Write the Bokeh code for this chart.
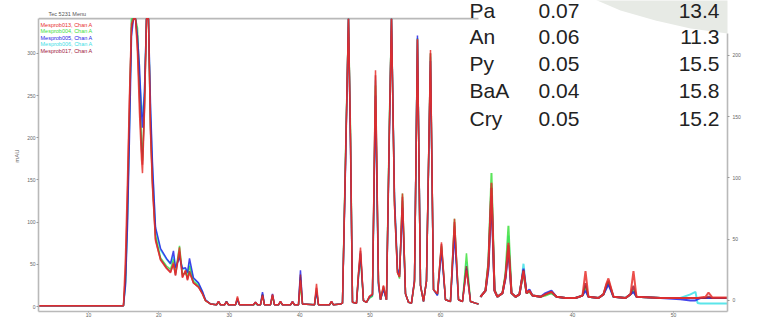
from bokeh.plotting import figure
from bokeh.models import Range1d, LinearAxis, FixedTicker, Label, PolyAnnotation
from bokeh.embed import file_html
from bokeh.resources import INLINE

# ---------------- data ----------------
SERIES = ["Mesprob013, Chan A", "Mesprob004, Chan A", "Mesprob005, Chan A",
          "Mesprob006, Chan A", "Mesprob017, Chan A"]
COLORS = ["#e8302c", "#3ee03e", "#2424e6", "#3ee0e6", "#a0203c"]

# left (full) chromatogram, time in min; off-scale peaks read at the panel top (341)
T_LEFT = [2.90, 14.97, 15.26, 15.54, 15.82, 16.11, 16.39, 16.68, 16.96, 17.24,
          17.53, 17.67, 17.95, 18.24, 18.52, 18.81, 19.09, 19.52, 20.23, 21.08,
          21.65, 22.07, 22.36, 22.93, 23.35, 23.78, 24.06, 24.35, 24.91, 25.63,
          26.19, 26.62, 27.33, 28.18, 28.47, 28.75, 29.32, 29.60, 29.89, 30.88,
          31.16, 31.45, 33.44, 33.72, 34.01, 34.43, 34.72, 35.00, 35.85, 36.14,
          36.42, 36.99, 37.27, 37.56, 38.69, 38.98, 39.26, 39.83, 40.11, 40.40,
          42.10, 42.39, 42.67, 44.23, 44.52, 44.80, 45.80, 46.08, 46.51, 46.93,
          47.22, 47.50, 48.07, 48.35, 48.64, 49.06, 49.49, 49.91, 50.34, 50.77,
          51.19, 51.48, 51.90, 52.33, 52.76, 53.04, 53.47, 53.89, 54.18, 54.60,
          55.03, 55.45, 55.88, 56.31, 56.73, 57.16, 57.59, 58.01, 58.58, 59.01,
          59.57, 60.14, 60.71, 61.42, 61.99, 62.56, 63.13, 63.69, 64.26, 64.97,
          65.40]
LEFT_013 = [1, 1, 60, 150, 250, 335, 341, 341, 300, 230,
            175, 158, 230, 341, 341, 205, 141, 78, 55, 45,
            40, 52, 37, 70, 34, 43, 31, 40, 28, 23,
            15, 7, 3, 2, 6, 2, 2, 5, 2, 2,
            12, 2, 2, 5, 2, 2, 13, 2, 2, 14,
            2, 2, 6, 2, 2, 6, 2, 2, 31, 3,
            2, 27, 2, 2, 6, 2, 3, 4, 173, 341,
            200, 5, 4, 40, 70, 7, 5, 12, 15, 280,
            31, 8, 25, 8, 220, 341, 120, 40, 35, 134,
            15, 5, 4, 30, 317, 25, 6, 30, 304, 20,
            15, 76, 8, 6, 104, 8, 6, 43, 6, 4,
            3]
LEFT_004 = [1, 1, 30, 110, 220, 341, 341, 341, 330, 270,
            195, 173, 240, 341, 341, 215, 150, 85, 58, 48,
            44, 56, 40, 72, 38, 40, 35, 48, 30, 25,
            16, 7, 3, 2, 5, 2, 2, 6, 2, 2,
            9, 2, 2, 4, 2, 2, 14, 2, 2, 12,
            2, 2, 5, 2, 2, 5, 2, 2, 25, 3,
            2, 19, 2, 2, 5, 2, 3, 4, 180, 341,
            210, 5, 4, 35, 58, 7, 5, 10, 12, 262,
            28, 8, 22, 8, 230, 341, 125, 42, 33, 134,
            15, 5, 4, 28, 318, 25, 6, 30, 300, 20,
            14, 72, 8, 6, 104, 8, 6, 63, 6, 4,
            3]
LEFT_005 = [1, 1, 25, 95, 200, 320, 341, 341, 320, 285,
            230, 212, 255, 341, 341, 240, 170, 94, 69, 57,
            51, 66, 46, 58, 45, 46, 40, 57, 34, 28,
            18, 8, 3, 2, 6, 2, 2, 6, 2, 2,
            8, 2, 2, 5, 2, 2, 17, 2, 2, 15,
            2, 2, 6, 2, 2, 6, 2, 2, 43, 3,
            2, 18, 2, 2, 6, 2, 3, 4, 165, 341,
            190, 5, 4, 35, 63, 7, 5, 11, 14, 250,
            25, 8, 20, 8, 210, 341, 130, 45, 38, 117,
            15, 5, 4, 32, 321, 25, 6, 30, 291, 20,
            13, 66, 8, 6, 84, 8, 6, 45, 6, 4,
            3]
LEFT_006 = [1, 1, 28, 105, 215, 340, 341, 341, 320, 270,
            240, 225, 255, 341, 341, 230, 165, 92, 67, 56,
            50, 60, 45, 62, 44, 45, 39, 52, 33, 27,
            17, 8, 3, 2, 5, 2, 2, 5, 2, 2,
            8, 2, 2, 4, 2, 2, 15, 2, 2, 13,
            2, 2, 5, 2, 2, 6, 2, 2, 35, 3,
            2, 19, 2, 2, 5, 2, 3, 4, 175, 341,
            200, 5, 4, 38, 62, 7, 5, 10, 13, 268,
            27, 8, 21, 8, 225, 341, 125, 44, 36, 125,
            15, 5, 4, 30, 318, 25, 6, 30, 296, 20,
            14, 70, 8, 6, 95, 8, 6, 52, 6, 4,
            3]
LEFT_017 = [1, 1, 40, 130, 240, 330, 341, 341, 310, 250,
            185, 168, 235, 341, 341, 210, 145, 80, 56, 46,
            41, 50, 37, 65, 35, 42, 32, 42, 28, 23,
            15, 7, 3, 2, 6, 2, 2, 6, 2, 2,
            10, 2, 2, 5, 2, 2, 14, 2, 2, 14,
            2, 2, 6, 2, 2, 5, 2, 2, 38, 3,
            2, 22, 2, 2, 6, 2, 3, 4, 170, 341,
            195, 5, 4, 38, 66, 7, 5, 12, 14, 274,
            29, 8, 24, 8, 220, 341, 120, 40, 35, 130,
            15, 5, 4, 30, 316, 25, 6, 30, 300, 20,
            15, 74, 8, 6, 100, 8, 6, 48, 6, 4,
            3]

# right (expanded) chromatogram
T_RIGHT = [30.89, 31.39, 31.68, 31.98, 32.28, 32.57, 33.07, 33.37, 33.66, 33.96,
           34.36, 34.75, 34.95, 35.15, 35.45, 35.74, 36.04, 36.83, 37.33, 37.92,
           38.42, 39.31, 40.30, 40.99, 41.29, 41.58, 42.57, 43.07, 43.37, 43.56,
           43.76, 44.06, 45.25, 45.74, 46.04, 46.34, 48.71, 50.69, 51.68, 52.18,
           52.38, 52.67, 53.17, 53.47, 53.86, 54.46, 55.35]
RIGHT_013 = [3, 8, 30, 96, 8, 3, 6, 20, 47, 6,
             3, 5, 15, 24, 6, 8, 4, 3, 5, 7,
             3, 2, 2, 4, 24, 3, 2, 5, 14, 18,
             12, 3, 2, 5, 24, 3, 2, 2, 2, 2,
             2, 2.4, 3, 6.5, 2.4, 2.4, 2.4]
RIGHT_004 = [3, 8, 32, 104, 9, 3, 6, 22, 61, 6,
             3, 5, 15, 22, 6, 7, 4, 3, 4, 6,
             3, 2, 2, 4, 12, 3, 2, 5, 11, 15,
             10, 3, 2, 5, 8, 3, 2, 2, 2, 2,
             2, 2, 2, 2, 2, 2, 2]
RIGHT_005 = [3, 8, 25, 85, 8, 3, 6, 18, 41, 6,
             3, 5, 15, 26, 6, 9, 4, 3, 6, 8,
             3, 2, 2, 4, 8, 3, 2, 5, 10, 13,
             9, 3, 2, 5, 7, 3, 2, 1, 0, 0,
             1, 2, 2, 2, 2, 2, 2]
RIGHT_006 = [3, 8, 30, 95, 8, 3, 6, 20, 53, 6,
             3, 5, 15, 30, 6, 8, 4, 3, 5, 6,
             3, 2, 2, 4, 10, 3, 2, 5, 12, 14,
             10, 3, 2, 5, 8, 3, 2, 2, 5, 7,
             -2, -2.4, -2.4, -2.4, -2.4, -2.4, -2.4]
RIGHT_017 = [3, 8, 28, 92, 8, 3, 6, 19, 45, 6,
             3, 5, 15, 25, 6, 8, 4, 3, 5, 7,
             3, 2, 2, 4, 14, 3, 2, 5, 13, 16,
             11, 3, 2, 5, 12, 3, 2, 2, 2, 2,
             2, 2, 2, 3, 2, 2, 2]

X_TICKS = [10, 20, 30, 40, 50, 60]
X2_TICKS = [40, 50]
Y_TICKS = [0, 50, 100, 150, 200, 250, 300]
Y2_TICKS = [0, 50, 100, 150, 200]
Y_TOP = 341.2     # top of the left panel (off-scale limit)
Y2_TOP = 218.0    # top of the right panel axis

TITLE = "Tec 5231 Menu"
Y_LABEL = "mAU"
PAH = ["Pa", "An", "Py", "BaA", "Cry"]
LOD = [0.07, 0.06, 0.05, 0.04, 0.05]
RSD = [13.4, 11.3, 15.5, 15.8, 15.2]

LEFT = [LEFT_013, LEFT_004, LEFT_005, LEFT_006, LEFT_017]
RIGHT = [RIGHT_013, RIGHT_004, RIGHT_005, RIGHT_006, RIGHT_017]

# ---------------- layout ----------------
W, H = 760, 320
FL, FR, FT, FB = 38, 727, 0, 311   # frame position on the canvas (px)
X_RANGE = (2.90, 100.77)
Y_RANGE = (-5.9, 362.6)
X2_RANGE = (-12.87, 55.35)
Y2_RANGE = (-9.0, 244.9)


def px2x(px):
    return X_RANGE[0] + (px - FL) / (FR - FL) * (X_RANGE[1] - X_RANGE[0])


def py2y(py):
    return Y_RANGE[1] - (py - FT) / (FB - FT) * (Y_RANGE[1] - Y_RANGE[0])


def x2_to_x(v):
    f = (v - X2_RANGE[0]) / (X2_RANGE[1] - X2_RANGE[0])
    return round(X_RANGE[0] + f * (X_RANGE[1] - X_RANGE[0]), 4)


p = figure(width=W, height=H, output_backend="svg", toolbar_location=None,
           x_range=Range1d(*X_RANGE), y_range=Range1d(*Y_RANGE),
           min_border_left=FL, min_border_right=W - FR,
           min_border_top=FT, min_border_bottom=H - FB)
p.extra_x_ranges = {"x2": Range1d(*X2_RANGE)}
p.extra_y_ranges = {"y2": Range1d(*Y2_RANGE)}
p.outline_line_color = None
p.grid.visible = False
p.background_fill_color = "white"
p.border_fill_color = "white"

AXIS_COLOR = "#b9b9b9"
LABEL_COLOR = "#666666"
FONT = "Liberation Sans"


def style_axis(ax):
    ax.axis_line_color = AXIS_COLOR
    ax.axis_line_width = 1.6
    ax.major_tick_line_color = "#9a9a9a"
    ax.major_tick_out = 2
    ax.major_tick_in = 0
    ax.minor_tick_line_color = None
    ax.major_label_text_font_size = "5px"
    ax.major_label_text_color = LABEL_COLOR
    ax.major_label_text_font = FONT
    ax.major_label_standoff = 1


# bottom axis: left panel ticks + right panel ticks placed through the x2 scale
right_pos = [x2_to_x(v) for v in X2_TICKS]
xa = p.xaxis[0]
xa.ticker = FixedTicker(ticks=X_TICKS + right_pos)
xa.major_label_overrides = {pos: str(v) for pos, v in zip(right_pos, X2_TICKS)}
style_axis(xa)
xa.major_tick_out = 1
xa.major_label_standoff = 0

ya = p.yaxis[0]
ya.ticker = FixedTicker(ticks=Y_TICKS)
ya.bounds = (Y_RANGE[0], Y_TOP)
style_axis(ya)
ya.axis_label = Y_LABEL
ya.axis_label_text_font_size = "6px"
ya.axis_label_text_font_style = "normal"
ya.axis_label_text_color = LABEL_COLOR
ya.axis_label_text_font = FONT
ya.axis_label_standoff = 4

ra = LinearAxis(y_range_name="y2", ticker=FixedTicker(ticks=Y2_TICKS),
                bounds=(Y2_RANGE[0], Y2_TOP))
style_axis(ra)
ra.major_label_standoff = 3
p.add_layout(ra, "right")

# faded background corner (top right)
p.add_layout(PolyAnnotation(
    xs=[px2x(v) for v in [585, 770, 770, 727, 690, 655, 620]],
    ys=[py2y(v) for v in [-5, -5, 34, 33, 28, 20, 10]],
    fill_color="#e7eae5", fill_alpha=1.0, line_color=None, level="underlay"))

# top border of the left panel
p.segment(x0=[X_RANGE[0]], y0=[Y_TOP], x1=[T_LEFT[-1]], y1=[Y_TOP],
          line_color=AXIS_COLOR, line_width=1.8)

# traces
order = [3, 1, 2, 4, 0]
for i in order:
    p.line(T_LEFT, LEFT[i], line_color=COLORS[i], line_width=1.5, line_alpha=0.85)
for i in order:
    p.line(T_RIGHT, RIGHT[i], line_color=COLORS[i], line_width=2.0, line_alpha=0.85,
           x_range_name="x2", y_range_name="y2")

# title and legend (text only, in series colours)
p.add_layout(Label(x=px2x(48), y=py2y(13), text=TITLE, text_font=FONT,
                   text_font_size="5.5px", text_color="#555555",
                   text_baseline="middle"))
LEG_ROWS = [24, 30.5, 37, 43.5, 50]
for name, col, py in zip(SERIES, COLORS, LEG_ROWS):
    p.add_layout(Label(x=px2x(40), y=py2y(py), text=name, text_font=FONT,
                       text_font_size="5.5px", text_color=col,
                       text_baseline="middle"))

# table of figures
ROW_BASE = [10, 36, 63, 90, 118]
for name, lod, rsd, py in zip(PAH, LOD, RSD, ROW_BASE):
    y = py2y(py)
    p.add_layout(Label(x=px2x(469), y=y, text=name, text_font=FONT,
                       text_font_size="21px", text_color="#222222",
                       text_baseline="alphabetic", text_align="left"))
    p.add_layout(Label(x=px2x(538), y=y, text=f"{lod:.2f}", text_font=FONT,
                       text_font_size="21px", text_color="#222222",
                       text_baseline="alphabetic", text_align="left"))
    p.add_layout(Label(x=px2x(719), y=y, text=f"{rsd:.1f}", text_font=FONT,
                       text_font_size="21px", text_color="#222222",
                       text_baseline="alphabetic", text_align="right"))

open("out.html", "w").write(file_html(p, INLINE))
